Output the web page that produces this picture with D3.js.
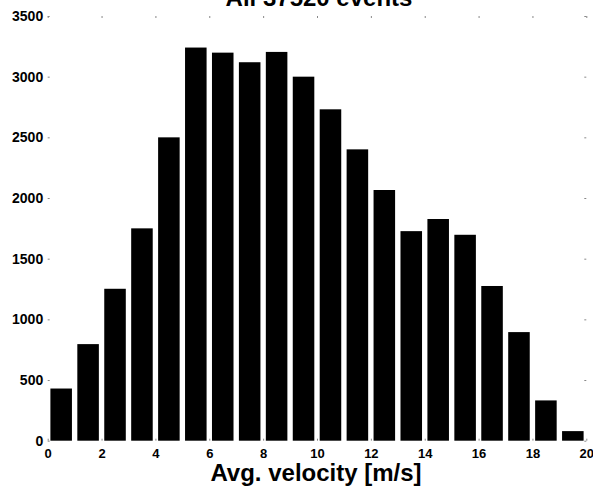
<!DOCTYPE html>
<head>
<meta charset="utf-8">
<title>Avg. velocity histogram</title>
<style>
body { margin: 0; background: #fff; }
text { font-family: "Liberation Sans", Arial, sans-serif; font-weight: bold; fill: #000; }
</style>
<script src="https://cdn.jsdelivr.net/npm/d3@7"></script>
</head>
<body>
<svg id="chart" width="593" height="489"></svg>
<script>
// histogram bins (left edge, m/s) and counts
var binStart = [0, 1, 2, 3, 4, 5, 6, 7, 8, 9, 10, 11, 12, 13, 14, 15, 16, 17, 18, 19];
var counts = [430, 796, 1252, 1750, 2500, 3240, 3198, 3119, 3204, 3000,
              2731, 2401, 2066, 1727, 1827, 1697, 1275, 895, 332, 79];
var xTicks = [0, 2, 4, 6, 8, 10, 12, 14, 16, 18, 20];
var yTicks = [0, 500, 1000, 1500, 2000, 2500, 3000, 3500];
var title = "All 37520 events";
var xLabel = "Avg. velocity [m/s]";

var svg = d3.select("#chart");
var plotLeft = 47.7, plotRight = 586.3, plotTop = 16, plotBottom = 440.7;

var x = d3.scaleLinear().domain([0, 20]).range([plotLeft, plotRight]);
var y = d3.scaleLinear().domain([0, 3500]).range([plotBottom, plotTop]);

// bars, 80% of bin width, centred in the bin
svg.selectAll("rect.bar")
  .data(binStart)
  .enter()
  .append("rect")
  .attr("class", "bar")
  .attr("x", function(d) { return x(d + 0.1); })
  .attr("width", function(d) { return x(d + 0.9) - x(d + 0.1); })
  .attr("y", function(d, i) { return y(counts[i]); })
  .attr("height", function(d, i) { return plotBottom - y(counts[i]); })
  .attr("fill", "#000");

// axes: tiny grey ticks only, no axis lines
function styleAxis(g) {
  g.select(".domain").remove();
  g.selectAll(".tick line").attr("stroke", "#888");
}

svg.append("g")
  .attr("transform", "translate(0," + plotBottom + ")")
  .call(d3.axisBottom(x).tickValues(xTicks).tickSize(-2).tickFormat(d3.format("d")))
  .call(styleAxis)
  .selectAll("text").attr("font-size", "13px").attr("dy", "0.71em").attr("y", 8.5);

svg.append("g")
  .attr("transform", "translate(0," + plotTop + ")")
  .call(d3.axisTop(x).tickValues(xTicks).tickSize(-2).tickFormat(""))
  .call(styleAxis);

svg.append("g")
  .attr("transform", "translate(" + plotLeft + ",0)")
  .call(d3.axisLeft(y).tickValues(yTicks).tickSize(-2).tickFormat(d3.format("d")))
  .call(styleAxis)
  .selectAll("text").attr("font-size", "14px").attr("x", -4.5);

svg.append("g")
  .attr("transform", "translate(" + plotRight + ",0)")
  .call(d3.axisRight(y).tickValues(yTicks).tickSize(-2).tickFormat(""))
  .call(styleAxis);

svg.selectAll("g text").attr("font-family", null);

// title (mostly cut off at the top, as in the original)
svg.append("text")
  .attr("x", 319)
  .attr("y", 6)
  .attr("text-anchor", "middle")
  .attr("font-size", "24px")
  .text(title);

svg.append("text")
  .attr("x", 316)
  .attr("y", 481)
  .attr("text-anchor", "middle")
  .attr("font-size", "24px")
  .text(xLabel);
</script>
</body>
